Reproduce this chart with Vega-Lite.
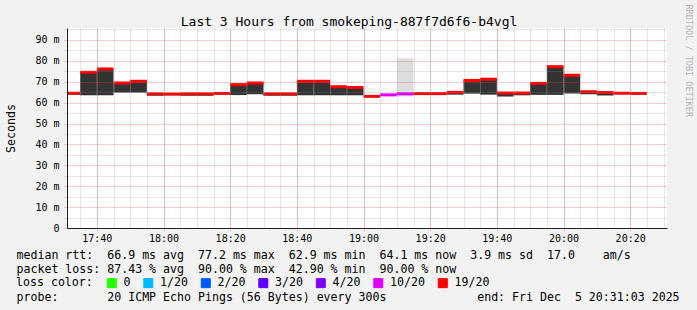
{
  "$schema": "https://vega.github.io/schema/vega-lite/v6.json",
  "width": 600,
  "height": 200,
  "autosize": {"type": "none"},
  "padding": {"left": 67, "top": 28, "right": 30, "bottom": 82},
  "background": "#f2f2f2",
  "config": {"view": {"fill": "white", "stroke": null}},
  "data": {"values": [
    {"t": "2025-12-05T17:30:00", "e": "2025-12-05T17:35:00", "med": 64.5, "lo": 63.8, "loss": "19/20"},
    {"t": "2025-12-05T17:35:00", "e": "2025-12-05T17:40:00", "med": 74.5, "lo": 63.5, "loss": "19/20"},
    {"t": "2025-12-05T17:40:00", "e": "2025-12-05T17:45:00", "med": 76.1, "lo": 63.5, "loss": "19/20"},
    {"t": "2025-12-05T17:45:00", "e": "2025-12-05T17:50:00", "med": 69.4, "lo": 64.8, "loss": "19/20"},
    {"t": "2025-12-05T17:50:00", "e": "2025-12-05T17:55:00", "med": 70.2, "lo": 64.8, "loss": "19/20"},
    {"t": "2025-12-05T17:55:00", "e": "2025-12-05T18:00:00", "med": 64.2, "lo": 63.3, "loss": "19/20"},
    {"t": "2025-12-05T18:00:00", "e": "2025-12-05T18:05:00", "med": 64.1, "lo": 63.5, "loss": "19/20"},
    {"t": "2025-12-05T18:05:00", "e": "2025-12-05T18:10:00", "med": 64.2, "lo": 63.3, "loss": "19/20"},
    {"t": "2025-12-05T18:10:00", "e": "2025-12-05T18:15:00", "med": 64.2, "lo": 63.3, "loss": "19/20"},
    {"t": "2025-12-05T18:15:00", "e": "2025-12-05T18:20:00", "med": 64.4, "lo": 64.4, "loss": "19/20"},
    {"t": "2025-12-05T18:20:00", "e": "2025-12-05T18:25:00", "med": 68.6, "lo": 63.6, "loss": "19/20"},
    {"t": "2025-12-05T18:25:00", "e": "2025-12-05T18:30:00", "med": 69.4, "lo": 64.0, "loss": "19/20"},
    {"t": "2025-12-05T18:30:00", "e": "2025-12-05T18:35:00", "med": 64.2, "lo": 63.3, "loss": "19/20"},
    {"t": "2025-12-05T18:35:00", "e": "2025-12-05T18:40:00", "med": 64.2, "lo": 63.3, "loss": "19/20"},
    {"t": "2025-12-05T18:40:00", "e": "2025-12-05T18:45:00", "med": 70.2, "lo": 63.5, "loss": "19/20"},
    {"t": "2025-12-05T18:45:00", "e": "2025-12-05T18:50:00", "med": 70.2, "lo": 63.5, "loss": "19/20"},
    {"t": "2025-12-05T18:50:00", "e": "2025-12-05T18:55:00", "med": 67.6, "lo": 63.5, "loss": "19/20"},
    {"t": "2025-12-05T18:55:00", "e": "2025-12-05T19:00:00", "med": 67.2, "lo": 63.5, "loss": "19/20"},
    {"t": "2025-12-05T19:00:00", "e": "2025-12-05T19:05:00", "med": 63.0, "lo": 63.0, "loss": "19/20"},
    {"t": "2025-12-05T19:05:00", "e": "2025-12-05T19:10:00", "med": 63.7, "lo": 63.7, "loss": "10/20"},
    {"t": "2025-12-05T19:10:00", "e": "2025-12-05T19:15:00", "med": 64.2, "lo": 64.2, "olo": 62.9, "ohi": 81.2, "loss": "10/20"},
    {"t": "2025-12-05T19:15:00", "e": "2025-12-05T19:20:00", "med": 64.3, "lo": 64.3, "loss": "19/20"},
    {"t": "2025-12-05T19:20:00", "e": "2025-12-05T19:25:00", "med": 64.3, "lo": 64.3, "loss": "19/20"},
    {"t": "2025-12-05T19:25:00", "e": "2025-12-05T19:30:00", "med": 64.9, "lo": 63.8, "loss": "19/20"},
    {"t": "2025-12-05T19:30:00", "e": "2025-12-05T19:35:00", "med": 70.6, "lo": 64.3, "loss": "19/20"},
    {"t": "2025-12-05T19:35:00", "e": "2025-12-05T19:40:00", "med": 71.2, "lo": 63.8, "loss": "19/20"},
    {"t": "2025-12-05T19:40:00", "e": "2025-12-05T19:45:00", "med": 64.6, "lo": 62.9, "loss": "19/20"},
    {"t": "2025-12-05T19:45:00", "e": "2025-12-05T19:50:00", "med": 64.6, "lo": 63.5, "loss": "19/20"},
    {"t": "2025-12-05T19:50:00", "e": "2025-12-05T19:55:00", "med": 69.2, "lo": 63.7, "loss": "19/20"},
    {"t": "2025-12-05T19:55:00", "e": "2025-12-05T20:00:00", "med": 77.2, "lo": 63.7, "loss": "19/20"},
    {"t": "2025-12-05T20:00:00", "e": "2025-12-05T20:05:00", "med": 73.1, "lo": 64.3, "loss": "19/20"},
    {"t": "2025-12-05T20:05:00", "e": "2025-12-05T20:10:00", "med": 65.2, "lo": 64.0, "loss": "19/20"},
    {"t": "2025-12-05T20:10:00", "e": "2025-12-05T20:15:00", "med": 64.8, "lo": 63.4, "loss": "19/20"},
    {"t": "2025-12-05T20:15:00", "e": "2025-12-05T20:20:00", "med": 64.5, "lo": 64.5, "loss": "19/20"},
    {"t": "2025-12-05T20:20:00", "e": "2025-12-05T20:25:00", "med": 64.4, "lo": 64.4, "loss": "19/20"}
  ]},
  "resolve": {"axis": {"x": "independent", "y": "independent"}},
  "layer": [
    {
      "transform": [{"filter": "datum.olo != null"}],
      "mark": {"type": "rect", "color": "#dddddd", "clip": true},
      "encoding": {
        "x": {"field": "t", "type": "temporal",
          "scale": {"domain": [{"year": 2025, "month": 12, "date": 5, "hours": 17, "minutes": 31, "seconds": 3}, {"year": 2025, "month": 12, "date": 5, "hours": 20, "minutes": 31, "seconds": 3}]},
          "axis": {"orient": "bottom", "tickCount": 36, "grid": true, "gridColor": "#8f8f8f", "gridOpacity": 0.45, "gridDash": [1, 1], "labels": false, "ticks": false, "domain": false,
            "title": "probe:\u00a0\u00a0\u00a0\u00a0\u00a0\u00a0\u00a020\u00a0ICMP\u00a0Echo\u00a0Pings\u00a0(56\u00a0Bytes)\u00a0every\u00a0300s\u00a0\u00a0\u00a0\u00a0\u00a0\u00a0\u00a0\u00a0\u00a0\u00a0\u00a0\u00a0\u00a0end:\u00a0Fri\u00a0Dec\u00a0\u00a05\u00a020:31:03\u00a02025",
            "titleX": -51, "titleY": 72.5, "titleAlign": "left", "titleBaseline": "alphabetic", "titleFont": "DejaVu Sans Mono", "titleFontSize": 11.6, "titleFontWeight": "normal", "titleColor": "#000000", "titleLimit": 1000, "zindex": 1}},
        "x2": {"field": "e"},
        "y": {"field": "olo", "type": "quantitative",
          "scale": {"domain": [0, 95.7], "nice": false, "zero": false},
          "axis": {"orient": "left", "values": [5, 15, 25, 35, 45, 55, 65, 75, 85, 95], "grid": true, "gridColor": "#8f8f8f", "gridOpacity": 0.45, "gridDash": [1, 1], "labels": false, "ticks": true, "tickSize": 3, "tickColor": "#8f8f8f", "tickOpacity": 0.45, "tickDash": [1, 1], "domain": false, "title": null, "zindex": 1}},
        "y2": {"field": "ohi"}
      }
    },
    {
      "mark": {"type": "rect", "color": "#333333", "clip": true},
      "encoding": {
        "x": {"field": "t", "type": "temporal",
          "axis": {"orient": "bottom", "values": [
              {"year": 2025, "month": 12, "date": 5, "hours": 17, "minutes": 40},
              {"year": 2025, "month": 12, "date": 5, "hours": 18, "minutes": 0},
              {"year": 2025, "month": 12, "date": 5, "hours": 18, "minutes": 20},
              {"year": 2025, "month": 12, "date": 5, "hours": 18, "minutes": 40},
              {"year": 2025, "month": 12, "date": 5, "hours": 19, "minutes": 0},
              {"year": 2025, "month": 12, "date": 5, "hours": 19, "minutes": 20},
              {"year": 2025, "month": 12, "date": 5, "hours": 19, "minutes": 40},
              {"year": 2025, "month": 12, "date": 5, "hours": 20, "minutes": 0},
              {"year": 2025, "month": 12, "date": 5, "hours": 20, "minutes": 20}],
            "format": "%H:%M", "grid": true, "gridColor": "#de4f4f", "gridOpacity": 0.55, "gridDash": [1, 1], "ticks": true, "tickSize": 3, "tickColor": "#de4f4f", "tickOpacity": 0.55, "tickDash": [1, 1], "domain": true, "domainColor": "#1f1f1f", "labelFont": "DejaVu Sans Mono", "labelFontSize": 10, "labelColor": "#000000", "labelPadding": 2, "labelFlush": false, "labelOverlap": false,
            "title": ["median\u00a0rtt:\u00a0\u00a066.9\u00a0ms\u00a0avg\u00a0\u00a077.2\u00a0ms\u00a0max\u00a0\u00a062.9\u00a0ms\u00a0min\u00a0\u00a064.1\u00a0ms\u00a0now\u00a0\u00a03.9\u00a0ms\u00a0sd\u00a0\u00a017.0\u00a0\u00a0\u00a0\u00a0am/s", "packet\u00a0loss:\u00a087.43\u00a0%\u00a0avg\u00a0\u00a090.00\u00a0%\u00a0max\u00a0\u00a042.90\u00a0%\u00a0min\u00a0\u00a090.00\u00a0%\u00a0now"],
            "titleX": -51, "titleY": 30, "titleAlign": "left", "titleBaseline": "alphabetic", "titleFont": "DejaVu Sans Mono", "titleFontSize": 11.6, "titleFontWeight": "normal", "titleColor": "#000000", "titleLineHeight": 14, "titleLimit": 1000, "zindex": 1}},
        "x2": {"field": "e"},
        "y": {"field": "lo", "type": "quantitative",
          "axis": {"orient": "left", "values": [0, 10, 20, 30, 40, 50, 60, 70, 80, 90], "labelExpr": "datum.value == 0 ? '0' : datum.value + ' m'", "grid": true, "gridColor": "#de4f4f", "gridOpacity": 0.55, "gridDash": [1, 1], "ticks": true, "tickSize": 3, "tickColor": "#de4f4f", "tickOpacity": 0.55, "tickDash": [1, 1], "domain": true, "domainColor": "#1f1f1f", "labelFont": "DejaVu Sans Mono", "labelFontSize": 10, "labelColor": "#000000", "labelPadding": 5,
            "title": "Seconds", "titleX": -56, "titleY": 100, "titleAngle": -90, "titleAlign": "center", "titleBaseline": "middle", "titleFont": "DejaVu Sans Mono", "titleFontSize": 11.6, "titleFontWeight": "normal", "titleColor": "#000000", "zindex": 1}},
        "y2": {"field": "med"}
      }
    },
    {
      "mark": {"type": "rule", "strokeWidth": 3, "clip": true},
      "encoding": {
        "x": {"field": "t", "type": "temporal",
          "axis": {"orient": "top", "labels": false, "ticks": false, "domain": false, "grid": false, "title": "Last 3 Hours from smokeping-887f7d6f6-b4vgl", "titleX": 281.5, "titleY": -3, "titleAlign": "center", "titleBaseline": "alphabetic", "titleFont": "DejaVu Sans Mono", "titleFontSize": 13, "titleFontWeight": "normal", "titleColor": "#000000"}},
        "x2": {"field": "e"},
        "y": {"field": "med", "type": "quantitative",
          "axis": {"orient": "right", "labels": false, "ticks": false, "domain": false, "grid": false, "title": "RRDTOOL / TOBI OETIKER", "titleAngle": 90, "titleX": 21, "titleY": -24, "titleAlign": "left", "titleBaseline": "middle", "titleFont": "DejaVu Sans Mono", "titleFontSize": 8.5, "titleFontWeight": "normal", "titleColor": "#b5b5b5"}},
        "color": {"field": "loss", "type": "nominal",
          "scale": {"domain": ["0", "1/20", "2/20", "3/20", "4/20", "10/20", "19/20"], "range": ["#26ff00", "#00b8ff", "#0059ff", "#5e00ff", "#7e00ff", "#dd00ff", "#ff0000"]},
          "legend": {"orient": "none", "legendX": -51, "legendY": 249, "direction": "horizontal", "columns": 7, "padding": 0, "title": "loss color:", "titleOrient": "left", "titlePadding": 13, "titleFont": "DejaVu Sans Mono", "titleFontSize": 11.6, "titleFontWeight": "normal", "titleColor": "#000000", "labelFont": "DejaVu Sans Mono", "labelFontSize": 11.6, "labelColor": "#000000", "labelOffset": 6, "columnPadding": 10.5, "symbolType": "square", "symbolSize": 81, "symbolStrokeWidth": 1, "labelLimit": 200,
            "encode": {"symbols": {"update": {"fill": {"scale": "color", "field": "value"}, "stroke": {"value": "#000000"}, "fillOpacity": {"value": 1}, "opacity": {"value": 1}}}}}}
      }
    }
  ]
}
